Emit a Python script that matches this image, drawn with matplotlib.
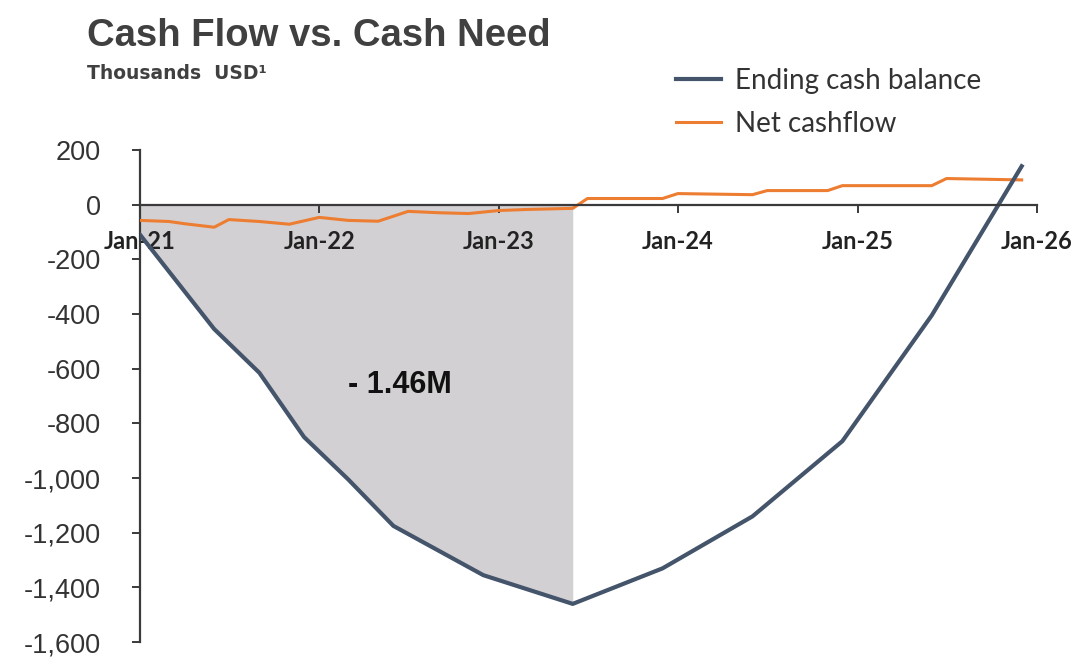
import numpy as np
import pandas as pd
import matplotlib
matplotlib.use("Agg")
import matplotlib.pyplot as plt
import matplotlib.dates as mdates
from matplotlib.ticker import FuncFormatter

# -------------------------------
# Data (thousands USD)
# -------------------------------
balance_dates = ["2021-01-01", "2021-06-01", "2021-09-01", "2021-12-01",
                 "2022-03-01", "2022-06-01", "2022-12-01", "2023-06-01",
                 "2023-12-01", "2024-06-01", "2024-12-01", "2025-06-01",
                 "2025-12-01"]
balance_values = [-110, -455, -615, -850, -1005, -1175, -1355, -1460,
                  -1330, -1140, -865, -405, 140]

cashflow_dates = ["2021-01-01", "2021-03-01", "2021-04-01", "2021-06-01",
                  "2021-07-01", "2021-09-01", "2021-11-01", "2022-01-01",
                  "2022-03-01", "2022-05-01", "2022-07-01", "2022-09-01",
                  "2022-11-01", "2023-01-01", "2023-03-01", "2023-06-01",
                  "2023-07-01", "2023-12-01", "2024-01-01", "2024-06-01",
                  "2024-07-01", "2024-11-01", "2024-12-01", "2025-06-01",
                  "2025-07-01", "2025-12-01"]
cashflow_values = [-58, -62, -70, -83, -55, -62, -72, -47, -58, -61, -25,
                   -30, -33, -22, -18, -14, 22, 22, 40, 36, 51, 51, 69, 69,
                   95, 90]

fill_end = "2023-06-01"   # cash need shaded up to the trough
y_ticks = list(range(-1600, 201, 200))
x_ticks = ["2021-01-01", "2022-01-01", "2023-01-01", "2024-01-01",
           "2025-01-01", "2026-01-01"]

balance_color = "#44546a"
cashflow_color = "#ed7d31"
fill_color = "#d3d0d3"
axis_color = "#3a3a3a"

bal = pd.Series(balance_values, index=pd.to_datetime(balance_dates))
cf = pd.Series(cashflow_values, index=pd.to_datetime(cashflow_dates))

# -------------------------------
# Plot
# -------------------------------
fig = plt.figure(figsize=(10.8, 6.6), dpi=100)
ax = fig.add_axes([0.1296, 0.027, 0.8305, 0.746])

shade = bal[bal.index <= pd.Timestamp(fill_end)]
ax.fill_between(shade.index, 0, shade.values, color=fill_color, lw=0, zorder=1)

ax.plot(bal.index, bal.values, color=balance_color, lw=3.0,
        solid_joinstyle="round", label="Ending cash balance", zorder=4)
ax.plot(cf.index, cf.values, color=cashflow_color, lw=2.2,
        label="Net cashflow", zorder=3)

trough = bal.min()
ax.text(pd.Timestamp("2022-06-15"), -660, f"- {abs(trough) / 1000:.2f}M",
        ha="center", va="center", fontsize=22, fontweight="bold",
        family="Liberation Sans", color="#111111", zorder=5)

# axes styling
ax.set_xlim(pd.Timestamp("2021-01-01"), pd.Timestamp("2026-01-01"))
ax.set_ylim(-1600, 200)
ax.set_yticks(y_ticks)
ax.yaxis.set_major_formatter(FuncFormatter(lambda v, p: f"{int(v):,}"))
ax.set_xticks(pd.to_datetime(x_ticks))
ax.xaxis.set_major_formatter(mdates.DateFormatter("%b-%y"))

for side in ["top", "right"]:
    ax.spines[side].set_visible(False)
ax.spines["bottom"].set_position(("data", 0))
ax.spines["bottom"].set_zorder(6)
for side in ["left", "bottom"]:
    ax.spines[side].set_color(axis_color)
    ax.spines[side].set_linewidth(1.6)

ax.tick_params(axis="y", direction="out", length=6, width=1.4,
               color=axis_color, labelsize=19.5, labelcolor="#333333", pad=22)
ax.tick_params(axis="x", direction="out", length=6, width=1.4,
               color=axis_color, pad=12)
for lbl in ax.get_yticklabels():
    lbl.set_family("Liberation Sans")
for lbl in ax.get_xticklabels():
    lbl.set_family("Lato")
    lbl.set_fontweight("bold")
    lbl.set_fontsize(17)
    lbl.set_color("#222222")

# titles
fig.text(0.081, 0.946, "Cash Flow vs. Cash Need", fontsize=27.5, fontweight="bold",
         family="Liberation Sans", color="#404040", va="center")
fig.text(0.081, 0.889, "Thousands  USD\u00b9", fontsize=13.5, fontweight="bold",
         family="DejaVu Sans", color="#404040", va="center")

leg = ax.legend(loc="upper left", bbox_to_anchor=(0.603, 0.935),
                bbox_transform=fig.transFigure, frameon=False,
                prop={"family": "Lato", "size": 20}, handlelength=1.6,
                handletextpad=0.5, labelspacing=0.6)
for text in leg.get_texts():
    text.set_color("#333333")

plt.savefig("out.png", dpi=100)
